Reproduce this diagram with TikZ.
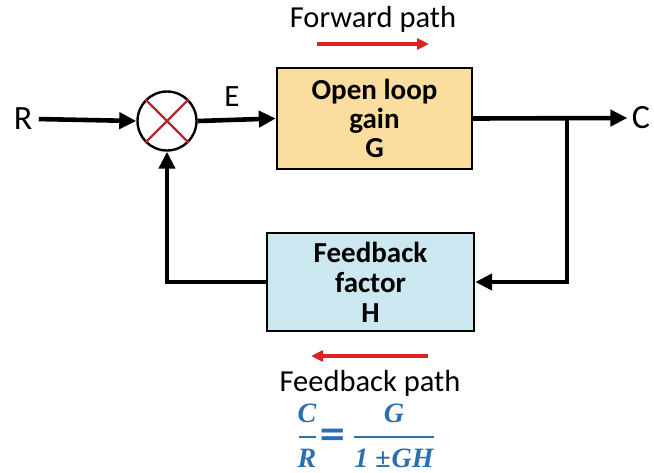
\documentclass[tikz,border=0pt]{standalone}
\usepackage{fontspec}
\setmainfont{Carlito}
\newfontfamily\eqfont{Liberation Serif}
\newfontfamily\eqsignfont{DejaVu Sans}
\usetikzlibrary{arrows.meta}
\definecolor{gainfill}{HTML}{FBDE9F}
\definecolor{fbfill}{HTML}{CBE7F0}
\definecolor{crossred}{HTML}{B3282D}
\definecolor{pathred}{HTML}{DC2222}
\definecolor{eqblue}{HTML}{2A6FB0}
\begin{document}
\begin{tikzpicture}[x=1pt,y=-1pt,
  sig/.style={line width=4.6pt,-{Triangle[length=17pt,width=16pt]}},
  dirarrow/.style={pathred,line width=3.4pt,-{Triangle[length=12pt,width=11pt]}},
  blk/.style={draw,line width=2.4pt,align=center,inner sep=0pt,
    font=\fontsize{29}{29}\selectfont\bfseries},
  lbl/.style={font=\fontsize{34}{36}\selectfont},
  pathlbl/.style={font=\fontsize{30.5}{33}\selectfont},
  eqsym/.style={text=eqblue,inner sep=0pt,font=\eqfont\fontsize{28}{30}\selectfont\bfseries\itshape},
  eqbar/.style={draw=eqblue,line width=2.8pt}
]
\useasboundingbox (0,0) rectangle (654,472);

% blocks
\node[blk,fill=gainfill,minimum width=195pt,minimum height=101pt] (G) at (374.5,118.5)
  {Open loop\\gain\\G};
\node[blk,fill=fbfill,minimum width=207pt,minimum height=98pt,
  font=\fontsize{29}{30}\selectfont\bfseries] (H) at (370.5,282)
  {Feedback\\factor\\H};

% summing junction
\node[circle,draw,line width=2.4pt,minimum size=59pt,inner sep=0pt] (sum) at (167,121) {};
\draw[crossred,line width=2.4pt] (sum.45) -- (sum.225) (sum.135) -- (sum.315);

% signal labels
\node[lbl] (R) at (23,119) {R};
\node[lbl] (C) at (641,118) {C};
\node[lbl,font=\fontsize{31}{33}\selectfont] (E) at (232,97) {E};

% signal lines
\coordinate (tap) at (567,118.5);
\draw[sig,shorten <=3pt] (R.east) -- (sum.west);
\draw[sig] (sum.east) -- (G.west);
\draw[sig,shorten >=1pt] (G.east) -- (C.west);
\draw[sig] (tap) |- (H.east);
\draw[sig] (H.west) -| (sum.south);

% direction hints
\node[pathlbl] (fwd) at (373,19) {Forward path};
\coordinate (f1) at (317,44);
\coordinate (f2) at (429,44);
\draw[dirarrow] (f1) -- (f2);
\coordinate (b1) at (428,356);
\coordinate (b2) at (311,356);
\draw[dirarrow] (b1) -- (b2);
\node[pathlbl] (fb) at (370,383) {Feedback path};

% closed-loop relation C/R = G/(1 +- GH)
\node[eqsym] (num1) at (307,413) {C};
\node[eqsym] (den1) at (307,458) {R};
\coordinate (bar1a) at (299,437);
\coordinate (bar1b) at (316,437);
\draw[eqbar] (bar1a) -- (bar1b);
\node[eqsym,font=\eqsignfont\fontsize{34}{34}\selectfont\bfseries] (eqs) at (333,437) {=};
\node[eqsym] (num2) at (394,413) {G};
\node[eqsym] (den2) at (394,458) {1 ±\kern1pt GH};
\coordinate (bar2a) at (354,437);
\coordinate (bar2b) at (434,437);
\draw[eqbar] (bar2a) -- (bar2b);
\end{tikzpicture}
\end{document}
